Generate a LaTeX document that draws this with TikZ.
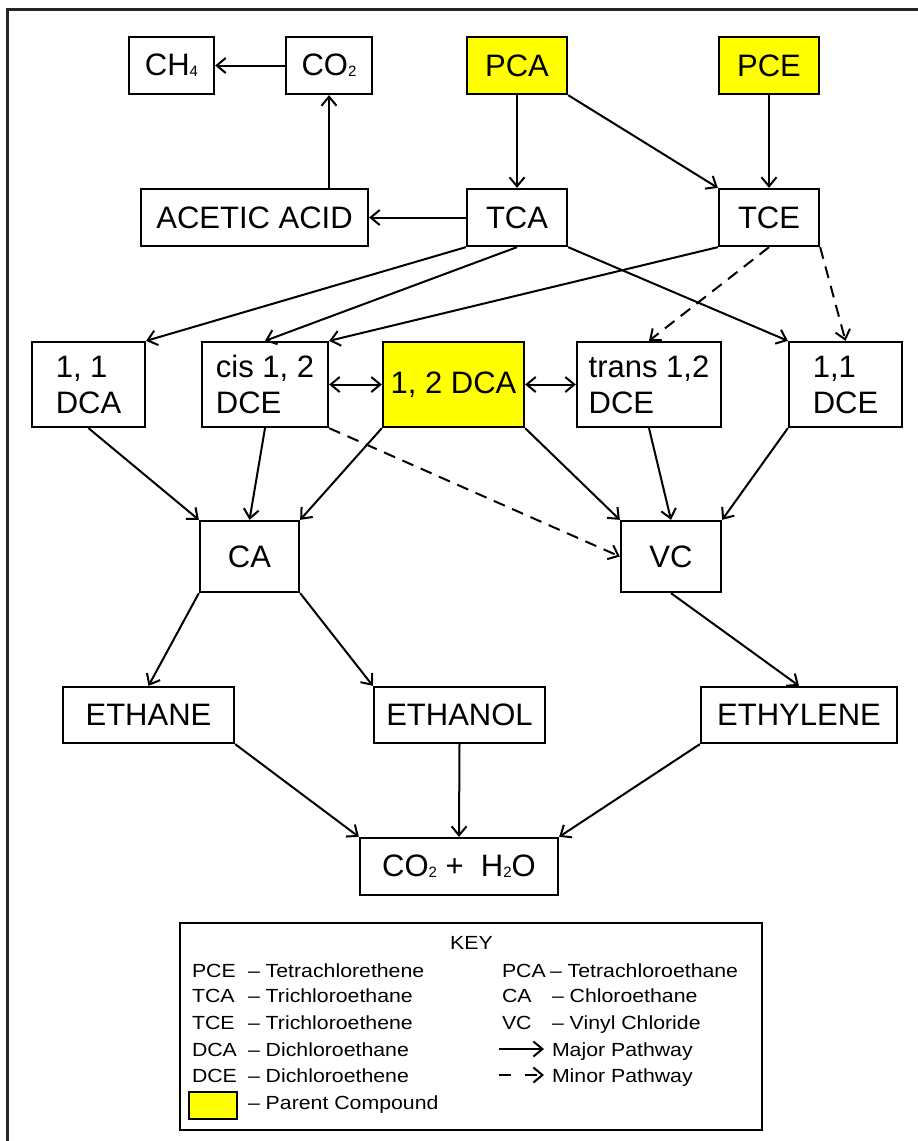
\documentclass[tikz,border=0pt]{standalone}
\usepackage{fontspec}
\setmainfont{Liberation Sans}
\newfontfamily\keyfont[FakeStretch=1.12]{Liberation Sans}
\usetikzlibrary{arrows.meta, positioning}
\definecolor{parentyellow}{RGB}{255, 255, 0}
\definecolor{framegray}{RGB}{38, 38, 38}
\newcommand{\chemsub}[1]{\raisebox{-1pt}{\fontsize{15}{15}\selectfont #1}}

\begin{document}
\begin{tikzpicture}[x=1pt, y=-1pt, line width=2pt,
  chem/.style={draw, line width=2.3pt, fill=white, inner sep=0pt, align=left, font=\fontsize{31}{36}\selectfont},
  parent/.style={chem, fill=parentyellow},
  major/.style={-{Straight Barb[length=9pt, width=15pt]}},
  minor/.style={major, dash pattern=on 12pt off 8pt},
  both/.style={{Straight Barb[length=9pt, width=15pt]}-{Straight Barb[length=9pt, width=15pt]}},
  keytext/.style={inner sep=0pt, anchor=base west, font=\keyfont\fontsize{19}{19}\selectfont}]
  \useasboundingbox (0, 0) rectangle (918, 1141);

  % Outer frame
  \draw[framegray, line width=3pt] (918, 9) -- (7, 9) -- (7, 1141);

  % Top rows
  \node[chem, minimum width=85pt, minimum height=57pt] (ch4) at (171.5, 65.5) {CH\chemsub{4}};
  \node[chem, minimum width=86pt, minimum height=57pt] (co2) at (329, 65.5) {CO\chemsub{2}};
  \node[parent, minimum width=100pt, minimum height=57pt] (pca) at (517, 65.5) {PCA};
  \node[parent, minimum width=100pt, minimum height=57pt] (pce) at (769, 65.5) {PCE};
  \node[chem, minimum width=227pt, minimum height=57pt] (acetic) at (254.5, 217.5) {ACETIC ACID};
  \node[chem, minimum width=100pt, minimum height=57pt] (tca) at (517, 217.5) {TCA};
  \node[chem, minimum width=100pt, minimum height=57pt] (tce) at (769, 217.5) {TCE};

  % Dichloro row
  \node[chem, minimum width=113pt, minimum height=85pt] (dca11) at (88.5, 384.5) {1, 1\\DCA};
  \node[chem, minimum width=126pt, minimum height=85pt] (cisdce) at (265, 384.5) {cis 1, 2\\DCE};
  \node[parent, minimum width=141pt, minimum height=85pt] (dca12) at (453.5, 384.5) {1, 2 DCA};
  \node[chem, minimum width=144pt, minimum height=85pt] (transdce) at (649, 384.5) {trans 1,2\\DCE};
  \node[chem, minimum width=113pt, minimum height=85pt] (dce11) at (845.5, 384.5) {1,1\\DCE};

  % Lower rows
  \node[chem, minimum width=99pt, minimum height=71pt] (ca) at (249.5, 556.5) {CA};
  \node[chem, minimum width=100pt, minimum height=71pt] (vc) at (671, 556.5) {VC};
  \node[chem, minimum width=171pt, minimum height=56pt] (ethane) at (148.5, 715) {ETHANE};
  \node[chem, minimum width=171pt, minimum height=56pt] (ethanol) at (459.5, 715) {ETHANOL};
  \node[chem, minimum width=196pt, minimum height=56pt] (ethylene) at (799, 715) {ETHYLENE};
  \node[chem, minimum width=198pt, minimum height=57pt] (water) at (459, 866.5) {CO\chemsub{2} +~ H\chemsub{2}O};

  % Pathways
  \draw[major] (co2.west) -- (ch4.east);
  \draw[major] (co2.south |- acetic.north) -- (co2.south);
  \draw[major] (tca.west) -- (acetic.east);
  \draw[major] (pca.south) -- (tca.north);
  \draw[major] (pca.south east) -- (tce.north west);
  \draw[major] (pce.south) -- (tce.north);
  \draw[major] (tca.south west) -- (dca11.north east);
  \draw[major] (tca.south) -- (cisdce.north);
  \draw[major] (tca.south east) -- (dce11.north west);
  \draw[major] (tce.south west) -- (cisdce.north east);
  \draw[minor] (tce.south) -- (transdce.north);
  \draw[minor] (tce.south east) -- (dce11.north);
  \draw[both] (cisdce.east) -- (dca12.west);
  \draw[both] (dca12.east) -- (transdce.west);
  \draw[major] (dca11.south) -- (ca.north west);
  \draw[major] (cisdce.south) -- (ca.north);
  \draw[major] (dca12.south west) -- (ca.north east);
  \draw[minor] (cisdce.south east) -- (vc.west);
  \draw[major] (dca12.south east) -- (vc.north west);
  \draw[major] (transdce.south) -- (vc.north);
  \draw[major] (dce11.south west) -- (vc.north east);
  \draw[major] (ca.south west) -- (ethane.north);
  \draw[major] (ca.south east) -- (ethanol.north west);
  \draw[major] (vc.south) -- (ethylene.north);
  \draw[major] (ethane.south east) -- (water.north west);
  \draw[major] (ethanol.south) -- (water.north);
  \draw[major] (ethylene.south west) -- (water.north east);

  % Key
  \node[draw, line width=2pt, minimum width=582pt, minimum height=207pt] (key) at (471, 1026.5) {};
  \node[keytext, anchor=base] (keytitle) at (471.5, 949) {KEY};
  \node[keytext] (kpce) at (191, 977) {PCE};
  \node[keytext] (kpcetxt) at (247, 977) {– Tetrachlorethene};
  \node[keytext] (ktca) at (191, 1002) {TCA};
  \node[keytext] (ktcatxt) at (247, 1002) {– Trichloroethane};
  \node[keytext] (ktce) at (191, 1029) {TCE};
  \node[keytext] (ktcetxt) at (247, 1029) {– Trichloroethene};
  \node[keytext] (kdca) at (191, 1056) {DCA};
  \node[keytext] (kdcatxt) at (247, 1056) {– Dichloroethane};
  \node[keytext] (kdce) at (191, 1082) {DCE};
  \node[keytext] (kdcetxt) at (247, 1082) {– Dichloroethene};
  \node[draw, fill=parentyellow, line width=2pt, minimum width=48pt, minimum height=27pt, inner sep=0pt] (kparent) at (213, 1105.5) {};
  \node[keytext] (kparenttxt) at (247, 1109) {– Parent Compound};
  \node[keytext] (kpca) at (501, 977) {PCA};
  \node[keytext] (kpcatxt) at (549, 977) {– Tetrachloroethane};
  \node[keytext] (kca) at (501, 1002) {CA};
  \node[keytext] (kcatxt) at (551, 1002) {– Chloroethane};
  \node[keytext] (kvc) at (501, 1029) {VC};
  \node[keytext] (kvctxt) at (551, 1029) {– Vinyl Chloride};
  \coordinate (majstart) at (499, 1049);
  \coordinate (majend) at (544, 1049);
  \node[keytext] (kmajor) at (551, 1056) {Major Pathway};
  \coordinate (minstart) at (499, 1075);
  \coordinate (minend) at (544, 1075);
  \node[keytext] (kminor) at (551, 1082) {Minor Pathway};
  \draw[major] (majstart) -- (majend);
  \draw[minor, dash pattern=on 12pt off 14pt] (minstart) -- (minend);
\end{tikzpicture}
\end{document}
